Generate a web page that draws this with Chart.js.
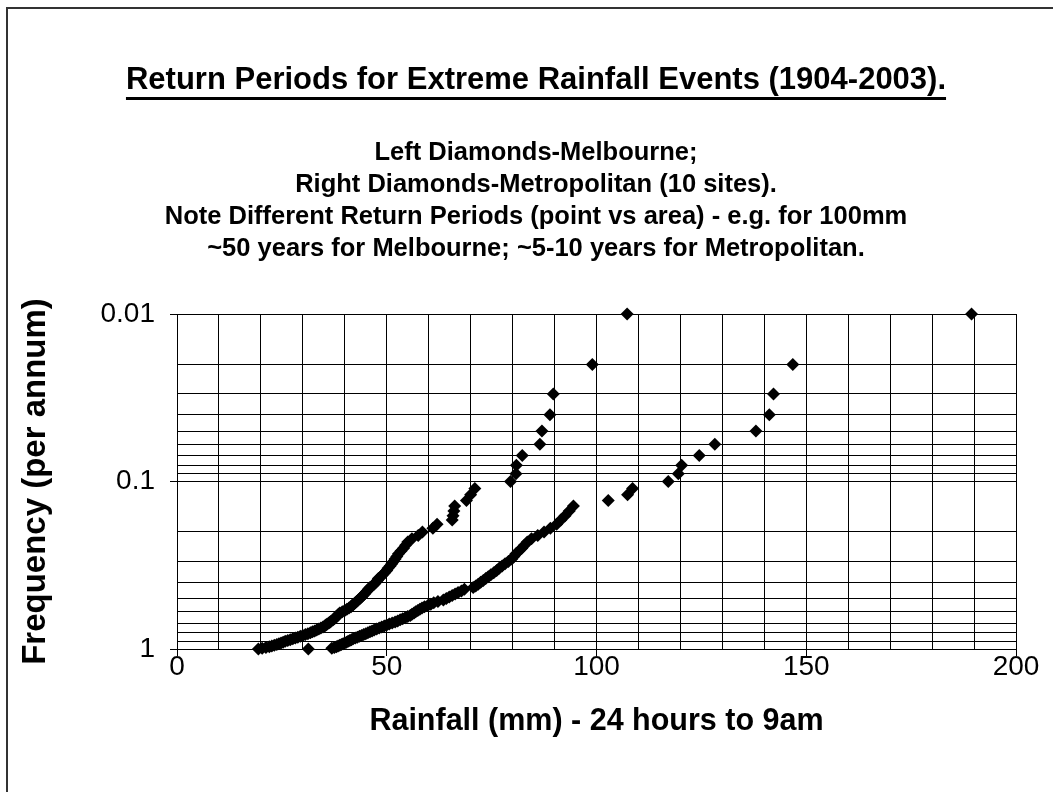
<!DOCTYPE html>
<html>
<head>
<meta charset="utf-8">
<script src="https://cdn.jsdelivr.net/npm/chart.js@4/dist/chart.umd.min.js"></script>
<style>
html, body { margin: 0; padding: 0; background: #fff; }
#wrap { width: 1053px; height: 792px; position: relative; }
</style>
</head>
<body>
<div id="wrap"><canvas id="rain"></canvas></div>
<script>
// frequency per annum (rank / 100 years)
var frequency = [
    0.01, 0.02, 0.03, 0.04, 0.05, 0.06, 0.07, 0.08, 0.09, 0.10,
    0.11, 0.12, 0.13, 0.14, 0.15, 0.16, 0.17, 0.18, 0.19, 0.20,
    0.21, 0.22, 0.23, 0.24, 0.25, 0.26, 0.27, 0.28, 0.29, 0.30,
    0.31, 0.32, 0.33, 0.34, 0.35, 0.36, 0.37, 0.38, 0.39, 0.40,
    0.41, 0.42, 0.43, 0.44, 0.45, 0.46, 0.47, 0.48, 0.49, 0.50,
    0.51, 0.52, 0.53, 0.54, 0.55, 0.56, 0.57, 0.58, 0.59, 0.60,
    0.61, 0.62, 0.63, 0.64, 0.65, 0.66, 0.67, 0.68, 0.69, 0.70,
    0.71, 0.72, 0.73, 0.74, 0.75, 0.76, 0.77, 0.78, 0.79, 0.80,
    0.81, 0.82, 0.83, 0.84, 0.85, 0.86, 0.87, 0.88, 0.89, 0.90,
    0.91, 0.92, 0.93, 0.94, 0.95, 0.96, 0.97, 0.98, 0.99, 1.00
];

// left diamonds - Melbourne (mm)
var melbourneRain = [
    107.3, 99.0, 89.7, 88.9, 87.0, 86.5, 82.3, 80.9, 80.8, 79.5,
    71.0, 70.0, 69.0, 66.2, 66.0, 65.8, 65.6, 62.0, 61.0, 58.5,
    57.5, 56.0, 55.0, 54.5, 54.0, 53.4, 52.8, 52.4, 52.0, 51.6,
    51.2, 50.8, 50.3, 50.0, 49.5, 49.0, 48.6, 48.0, 47.8, 47.4,
    47.0, 46.5, 46.0, 45.6, 45.3, 45.0, 44.7, 44.3, 44.0, 43.6,
    43.2, 42.8, 42.5, 42.0, 41.8, 41.5, 41.0, 40.5, 40.0, 39.4,
    38.8, 38.5, 38.3, 38.0, 37.8, 37.5, 37.2, 36.8, 36.5, 36.2,
    35.8, 35.5, 35.2, 34.8, 34.3, 33.8, 33.3, 32.8, 32.3, 31.8,
    31.2, 30.6, 30.0, 29.4, 28.8, 28.2, 27.6, 27.0, 26.4, 25.8,
    25.3, 24.8, 24.3, 23.8, 23.2, 22.6, 22.0, 21.2, 20.3, 19.4
];

// right diamonds - Metropolitan, 10 sites (mm)
var metroRain = [
    189.4, 146.8, 142.2, 141.2, 138.0, 128.2, 124.5, 120.3, 119.5, 117.1,
    108.6, 107.4, 102.8, 94.5, 93.5, 92.5, 91.5, 90.5, 89.0, 87.5,
    86.0, 84.5, 83.5, 82.8, 82.2, 81.5, 80.8, 80.3, 79.8, 79.0,
    78.2, 77.5, 76.8, 76.2, 75.5, 74.8, 74.2, 73.6, 73.0, 72.4,
    71.8, 71.2, 70.6, 68.5, 67.8, 67.0, 66.3, 65.6, 64.9, 64.2,
    63.5, 62.2, 61.2, 60.5, 59.8, 59.0, 58.4, 57.9, 57.4, 56.9,
    56.5, 56.0, 55.6, 55.0, 54.4, 53.8, 53.2, 52.6, 52.0, 51.3,
    50.6, 50.0, 49.4, 48.8, 48.2, 47.6, 47.0, 46.5, 46.0, 45.5,
    45.0, 44.5, 44.0, 43.5, 43.0, 42.5, 42.0, 41.6, 41.2, 40.8,
    40.4, 40.0, 39.6, 39.2, 38.8, 38.4, 38.0, 37.5, 36.9, 31.3
];

// y gridlines (log) and which of them get a label
var yTicks = [
    0.01, 0.02, 0.03, 0.04, 0.05, 0.06, 0.07, 0.08, 0.09,
    0.1, 0.2, 0.3, 0.4, 0.5, 0.6, 0.7, 0.8, 0.9, 1
];
var yLabels = [0.01, 0.1, 1];
var xLabels = [0, 50, 100, 150, 200];

var titleText = 'Return Periods for Extreme Rainfall Events (1904-2003).';
var noteLines = [
    'Left Diamonds-Melbourne;',
    'Right Diamonds-Metropolitan (10 sites).',
    'Note Different Return Periods (point vs area) - e.g. for 100mm',
    '~50 years for Melbourne; ~5-10 years for Metropolitan.'
];

var FONT = '"Liberation Sans", Arial, sans-serif';

function pairUp(xs) {
    return xs.map(function (x, i) { return { x: x, y: frequency[i] }; });
}
function isYLabel(v) {
    return yLabels.some(function (l) { return Math.abs(l - v) < 1e-9; });
}

var header = {
    id: 'header',
    beforeDraw: function (chart) {
        var c = chart.ctx;
        c.save();
        c.fillStyle = '#fff';
        c.fillRect(0, 0, chart.width, chart.height);
        c.restore();
    },
    afterDraw: function (chart) {
        var c = chart.ctx;
        c.save();
        // outer frame (only top and left show in the picture)
        c.strokeStyle = '#333';
        c.lineWidth = 2;
        c.beginPath();
        c.moveTo(7, 800);
        c.lineTo(7, 8);
        c.lineTo(1060, 8);
        c.stroke();

        c.fillStyle = '#000';
        c.textAlign = 'center';
        c.textBaseline = 'middle';
        c.font = 'bold 31px ' + FONT;
        c.fillText(titleText, 536, 80);
        var w = c.measureText(titleText).width;
        c.fillRect(536 - w / 2, 97, w, 3);

        c.font = 'bold 25.5px ' + FONT;
        noteLines.forEach(function (t, i) {
            c.fillText(t, 536, 153 + i * 32);
        });
        c.restore();
    }
};

var ctx = document.getElementById('rain').getContext('2d');
var rainChart = new Chart(ctx, {
    type: 'scatter',
    data: {
        datasets: [{
            label: 'Melbourne',
            data: pairUp(melbourneRain),
            clip: false,
            pointStyle: 'rectRot',
            pointRadius: 6.5,
            pointBorderWidth: 0,
            backgroundColor: '#000',
            borderColor: '#000'
        }, {
            label: 'Metropolitan',
            data: pairUp(metroRain),
            clip: false,
            pointStyle: 'rectRot',
            pointRadius: 6.5,
            pointBorderWidth: 0,
            backgroundColor: '#000',
            borderColor: '#000'
        }]
    },
    options: {
        responsive: true,
        maintainAspectRatio: false,
        animation: false,
        layout: {
            padding: { left: 0, right: 37, top: 314, bottom: 0 }
        },
        plugins: {
            legend: { display: false },
            tooltip: { enabled: false }
        },
        scales: {
            x: {
                type: 'linear',
                min: 0,
                max: 200,
                afterFit: function (scale) { scale.height = 143; },
                ticks: {
                    stepSize: 10,
                    autoSkip: false,
                    maxRotation: 0,
                    padding: -6,
                    color: '#000',
                    font: { family: FONT, size: 28 },
                    callback: function (v) { return xLabels.indexOf(v) >= 0 ? String(v) : ''; }
                },
                grid: {
                    color: '#000',
                    lineWidth: 1,
                    tickLength: 7,
                    tickColor: function (c) {
                        return c.tick && xLabels.indexOf(c.tick.value) >= 0 ? '#000' : 'rgba(0,0,0,0)';
                    }
                },
                border: { color: '#000', width: 1 },
                title: {
                    display: true,
                    text: 'Rainfall (mm) - 24 hours to 9am',
                    color: '#000',
                    font: { family: FONT, size: 30.5, weight: 'bold' },
                    padding: { top: 0, bottom: 52 }
                }
            },
            y: {
                type: 'logarithmic',
                reverse: true,
                min: 0.01,
                max: 1,
                afterFit: function (scale) { scale.width = 177; },
                afterBuildTicks: function (scale) {
                    scale.ticks = yTicks.map(function (v) { return { value: v }; });
                },
                ticks: {
                    autoSkip: false,
                    padding: 15,
                    color: '#000',
                    font: { family: FONT, size: 28 },
                    callback: function (v) { return isYLabel(v) ? String(v) : ''; }
                },
                grid: {
                    color: '#000',
                    lineWidth: 1,
                    tickLength: 7,
                    tickColor: function (c) {
                        return c.tick && isYLabel(c.tick.value) ? '#000' : 'rgba(0,0,0,0)';
                    }
                },
                border: { color: '#000', width: 1 },
                title: {
                    display: true,
                    text: 'Frequency (per annum)',
                    color: '#000',
                    font: { family: FONT, size: 33, weight: 'bold' },
                    padding: { top: 16, bottom: 0 }
                }
            }
        }
    },
    plugins: [header]
});
</script>
</body>
</html>
